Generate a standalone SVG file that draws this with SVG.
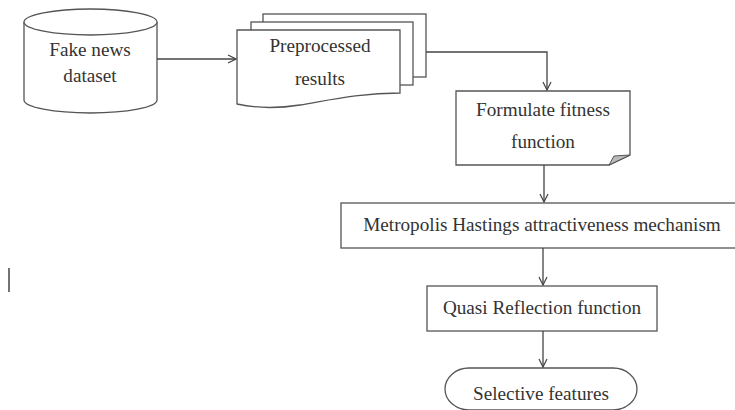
<svg xmlns="http://www.w3.org/2000/svg" width="735" height="410" viewBox="0 0 735 410">
<defs>
<style>
.s{fill:#fff;stroke:#555;stroke-width:1.3}
.c{fill:none;stroke:#444;stroke-width:1.3}
.t{font-family:'Liberation Serif','Times New Roman',serif;font-size:19.2px;fill:#333;text-anchor:middle}
</style>
<marker id="a" viewBox="0 0 10 10" refX="9" refY="5" markerWidth="10" markerHeight="10" markerUnits="userSpaceOnUse" orient="auto">
<path d="M1,1 L9,5 L1,9" fill="none" stroke="#444" stroke-width="1.2"/>
</marker>
</defs>
<rect width="735" height="410" fill="#fff"/>
<g id="dataset">
<path class="s" d="M24,22 L24,100 A66.5,13 0 0 0 157,100 L157,22"/>
<ellipse class="s" cx="90.5" cy="22" rx="66.5" ry="13"/>
<text class="t" x="90" y="56">Fake news</text>
<text class="t" x="90" y="82">dataset</text>
</g>
<g id="preprocessed">
<rect class="s" x="263" y="14" width="163" height="63"/>
<rect class="s" x="251" y="22" width="162" height="63"/>
<path class="s" d="M237,30 H400 V93 C360,93 330,100 300,105 C275,109 255,108 237,104 Z"/>
<text class="t" x="320" y="52">Preprocessed</text>
<text class="t" x="320" y="85">results</text>
</g>
<g id="fitness">
<path class="s" d="M456,91 H630 V155 L609,165 H456 Z"/>
<path d="M630,155 L609,165 L614,156 Z" fill="#bbb" stroke="#555" stroke-width="1"/>
<text class="t" x="543" y="116">Formulate fitness</text>
<text class="t" x="543" y="148">function</text>
</g>
<g id="metropolis">
<rect class="s" x="341" y="203" width="400" height="45"/>
<text class="t" x="542" y="231">Metropolis Hastings attractiveness mechanism</text>
</g>
<g id="quasi">
<rect class="s" x="427" y="286" width="230" height="45"/>
<text class="t" x="542" y="314">Quasi Reflection function</text>
</g>
<g id="selective">
<rect class="s" x="445" y="368" width="192" height="42" rx="24" ry="21"/>
<text class="t" x="541" y="400">Selective features</text>
</g>
<g id="mark">
<line x1="9" y1="268" x2="9" y2="292" stroke="#444" stroke-width="1.5"/>
</g>
<g id="connectors">
<path class="c" d="M157,59 H236" marker-end="url(#a)"/>
<path class="c" d="M426,52 H547 V90" marker-end="url(#a)"/>
<path class="c" d="M544,165 V202" marker-end="url(#a)"/>
<path class="c" d="M543,248 V285" marker-end="url(#a)"/>
<path class="c" d="M543,331 V367" marker-end="url(#a)"/>
</g>
</svg>
